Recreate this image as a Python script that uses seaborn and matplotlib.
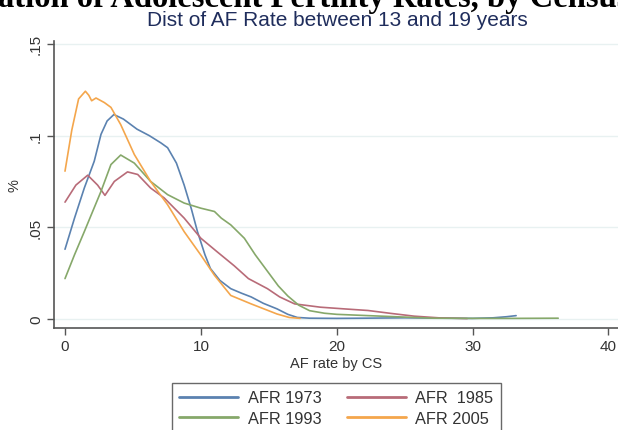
import numpy as np
import pandas as pd
import matplotlib
matplotlib.use("Agg")
import matplotlib.pyplot as plt
import seaborn as sns
from matplotlib.lines import Line2D

# ---- data ----
x_1973 = [0, 0.7, 1.42, 2.15, 2.65, 3.1, 3.6, 4.3, 5.3, 6.2, 7.06, 7.55, 8.2, 8.77, 9.3, 9.75,
          10.3, 10.7, 11.4, 12.2, 13.0, 13.7, 14.6, 15.6, 16.4, 17.1, 18, 20, 22, 25, 28, 30,
          31.5, 32.5, 33.2]
y_1973 = [0.038, 0.055, 0.0714, 0.086, 0.1007, 0.108, 0.1115, 0.109, 0.1035, 0.100, 0.096,
          0.0934, 0.085, 0.073, 0.060, 0.0476, 0.035, 0.0275, 0.021, 0.0165, 0.014, 0.012,
          0.0085, 0.0055, 0.0025, 0.0008, 0.0004, 0.0003, 0.0004, 0.0006, 0.0004, 0.0003,
          0.0006, 0.0012, 0.0018]

x_1985 = [0, 0.8, 1.67, 2.4, 2.94, 3.63, 4.6, 5.35, 6.3, 7.3, 8.77, 10.0, 11.2, 12.45, 13.5,
          14.9, 15.8, 16.9, 18.8, 20.5, 22.3, 24, 25.7, 27.5, 29.6]
y_1985 = [0.0637, 0.073, 0.0784, 0.073, 0.0674, 0.075, 0.0802, 0.0788, 0.0714, 0.066, 0.055,
          0.044, 0.0366, 0.029, 0.022, 0.0165, 0.012, 0.0082, 0.0064, 0.0055, 0.0046, 0.003,
          0.0015, 0.0006, 0.0002]

x_1993 = [0, 0.7, 1.42, 2.0, 2.65, 3.38, 4.1, 5.1, 6.3, 7.55, 8.77, 10.0, 11.0, 11.5, 12.2,
          13.2, 14.0, 14.9, 15.7, 16.4, 17.2, 18, 19.1, 20, 22.3, 25, 27.1, 30, 33, 36.3]
y_1993 = [0.022, 0.035, 0.0476, 0.058, 0.0696, 0.0842, 0.0894, 0.085, 0.075, 0.0678, 0.0632,
          0.0604, 0.0586, 0.055, 0.0513, 0.044, 0.035, 0.026, 0.018, 0.0125, 0.0075, 0.0045,
          0.0031, 0.0025, 0.0018, 0.001, 0.0004, 0.0003, 0.0003, 0.0004]

x_2005 = [0, 0.5, 1.0, 1.5, 1.75, 1.96, 2.28, 2.9, 3.38, 4.1, 5.1, 6.3, 7.55, 8.77, 10.0,
          11.0, 12.2, 13.7, 15.6, 16.5, 17.3]
y_2005 = [0.0806, 0.103, 0.12, 0.1242, 0.122, 0.119, 0.1205, 0.118, 0.1154, 0.106, 0.0897,
          0.075, 0.0623, 0.0476, 0.0348, 0.0238, 0.0128, 0.0082, 0.0027, 0.0008, 0.0003]

series_names = ["AFR 1973", "AFR  1985", "AFR 1993", "AFR 2005"]
series_colors = ["#5b82b0", "#b86b78", "#86a86a", "#f4a64c"]
x_ticks = [0, 10, 20, 30, 40]
y_ticks = [0, 0.05, 0.10, 0.15]
y_tick_labels = ["0", ".05", ".1", ".15"]

title_text = "ation of Adolescent Fertility Rates, by Census"
subtitle_text = "Dist of AF Rate between 13 and 19 years"
x_label = "AF rate by CS"
y_label = "%"

frames = []
for name, xs, ys in zip(series_names, [x_1973, x_1985, x_1993, x_2005],
                        [y_1973, y_1985, y_1993, y_2005]):
    frames.append(pd.DataFrame({"x": xs, "y": ys, "series": name}))
df = pd.concat(frames, ignore_index=True)

sns.set_theme(style="white")
plt.rcParams["font.family"] = ["Liberation Sans", "DejaVu Sans"]

W, H = 618, 431
fig = plt.figure(figsize=(W / 100, H / 100), dpi=100)
ax = fig.add_axes([54 / W, 1 - 329 / H, (W - 54) / W, (329 - 42) / H])

sns.lineplot(data=df, x="x", y="y", hue="series", hue_order=series_names,
             palette=series_colors, sort=False, estimator=None, linewidth=1.2,
             ax=ax, legend=False)

ax.set_xlim(-0.81, 40.7)
ax.set_ylim(-0.00495, 0.1516)
ax.set_xticks(x_ticks)
ax.set_xticklabels([str(t) for t in x_ticks], fontsize=11, color="#333333")
ax.set_yticks(y_ticks)
ax.set_yticklabels(y_tick_labels, fontsize=11, color="#333333", rotation=90,
                   va="center")
ax.tick_params(axis="both", direction="out", length=5, width=1, color="#555555",
               left=True, bottom=True, pad=3)
for s in ["top", "right"]:
    ax.spines[s].set_visible(False)
for s in ["left", "bottom"]:
    ax.spines[s].set_color("#555555")
    ax.spines[s].set_linewidth(1.2)
ax.grid(axis="y", color="#e8f1f1", linewidth=1)
ax.set_axisbelow(True)

ax.set_xlabel(x_label, fontsize=10.5, color="#333333", labelpad=2)
ax.set_ylabel(y_label, fontsize=10.5, color="#333333", labelpad=5)

fig.text(-0.004, 1 - 6.5 / H, title_text, ha="left", va="baseline",
         fontsize=23.5, fontweight="bold", family=["Liberation Serif", "DejaVu Serif"],
         color="black")
fig.text(337 / W, 1 - 26 / H, subtitle_text, ha="center", va="baseline",
         fontsize=15, color="#1f2d5c")

# row-major order as in the reference: 1973, 1985 / 1993, 2005
order = [0, 2, 1, 3]
handles = [Line2D([0], [0], color=series_colors[i], lw=2) for i in order]
labels = [series_names[i] for i in order]
leg = fig.legend(handles, labels, loc="upper center", ncol=2,
                 bbox_to_anchor=(336.5 / W, 1 - 384 / H), borderaxespad=0,
                 frameon=True, fancybox=False,
                 fontsize=11.8, handlelength=3.6, columnspacing=1.5, labelspacing=0.35,
                 borderpad=0.45, handletextpad=0.6)
leg.get_frame().set_edgecolor("#444444")
leg.get_frame().set_linewidth(1)
for t in leg.get_texts():
    t.set_color("#333333")

fig.savefig("out.png", dpi=100)
